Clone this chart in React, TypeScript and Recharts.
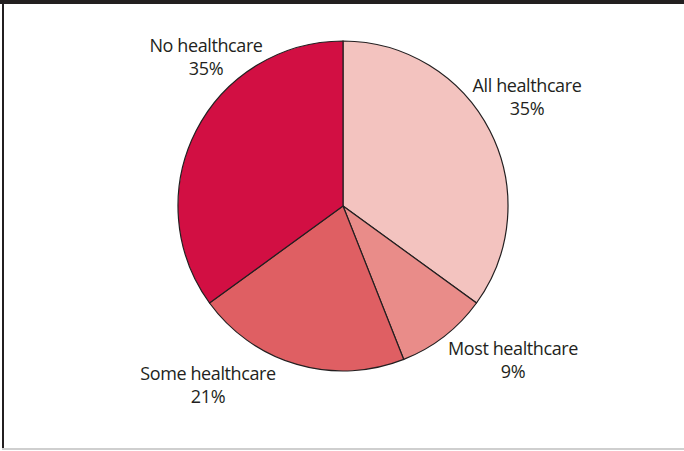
import { PieChart, Pie, Cell } from 'recharts';

// ─── Data ─────────────────────────────────────────────────────────────────────

const categories = ['All healthcare', 'Most healthcare', 'Some healthcare', 'No healthcare'];
const shares = [35, 9, 21, 35];

const SLICE_COLORS = ['#f3c3bf', '#e98c89', '#df5f63', '#d20f43'];

// Label anchor (centre of first baseline) relative to the pie centre.
const LABEL_PLACEMENT = [
  { dx: 184, dy: -114 },
  { dx: 170, dy: 149 },
  { dx: -135, dy: 174 },
  { dx: -137, dy: -154 },
];

const chartData = categories.map((name, i) => ({ name, value: shares[i] }));

const CX = 343;
const CY = 206;
const INK = '#231f20';
const FONT = '"Open Sans", sans-serif';

type LabelProps = { cx: number; cy: number; index: number; name: string; value: number };

function SliceLabel({ cx, cy, index, name, value }: LabelProps) {
  const p = LABEL_PLACEMENT[index];
  const x = cx + p.dx;
  const y = cy + p.dy;
  const textProps = {
    textAnchor: 'middle' as const,
    fill: INK,
    fontFamily: FONT,
    fontSize: 18,
    letterSpacing: -0.4,
  };
  return (
    <g>
      <text x={x} y={y} {...textProps}>{name}</text>
      <text x={x} y={y + 23} {...textProps}>{`${value}%`}</text>
    </g>
  );
}

export default function App() {
  return (
    <div
      style={{
        position: 'absolute',
        left: 0,
        top: 0,
        width: 684,
        height: 451,
        background: '#fff',
      }}
    >
      {/* frame */}
      <div style={{ position: 'absolute', left: 0, top: 0, width: 684, height: 4, background: INK }} />
      <div style={{ position: 'absolute', left: 2, top: 0, width: 2, height: 450, background: INK }} />
      <div style={{ position: 'absolute', left: 2, top: 448, width: 682, height: 2, background: '#cfcfcf' }} />

      <PieChart
        width={684}
        height={451}
        margin={{ top: 0, right: 0, bottom: 0, left: 0 }}
        style={{ position: 'absolute', left: 0, top: 0 }}
      >
        <Pie
          data={chartData}
          dataKey="value"
          nameKey="name"
          cx={CX}
          cy={CY}
          outerRadius={165}
          startAngle={90}
          endAngle={-270}
          stroke={INK}
          strokeWidth={1.2}
          labelLine={false}
          label={(props: any) => <SliceLabel {...props} />}
          isAnimationActive={false}
        >
          {chartData.map((d, i) => (
            <Cell key={d.name} fill={SLICE_COLORS[i]} />
          ))}
        </Pie>
      </PieChart>
    </div>
  );
}
